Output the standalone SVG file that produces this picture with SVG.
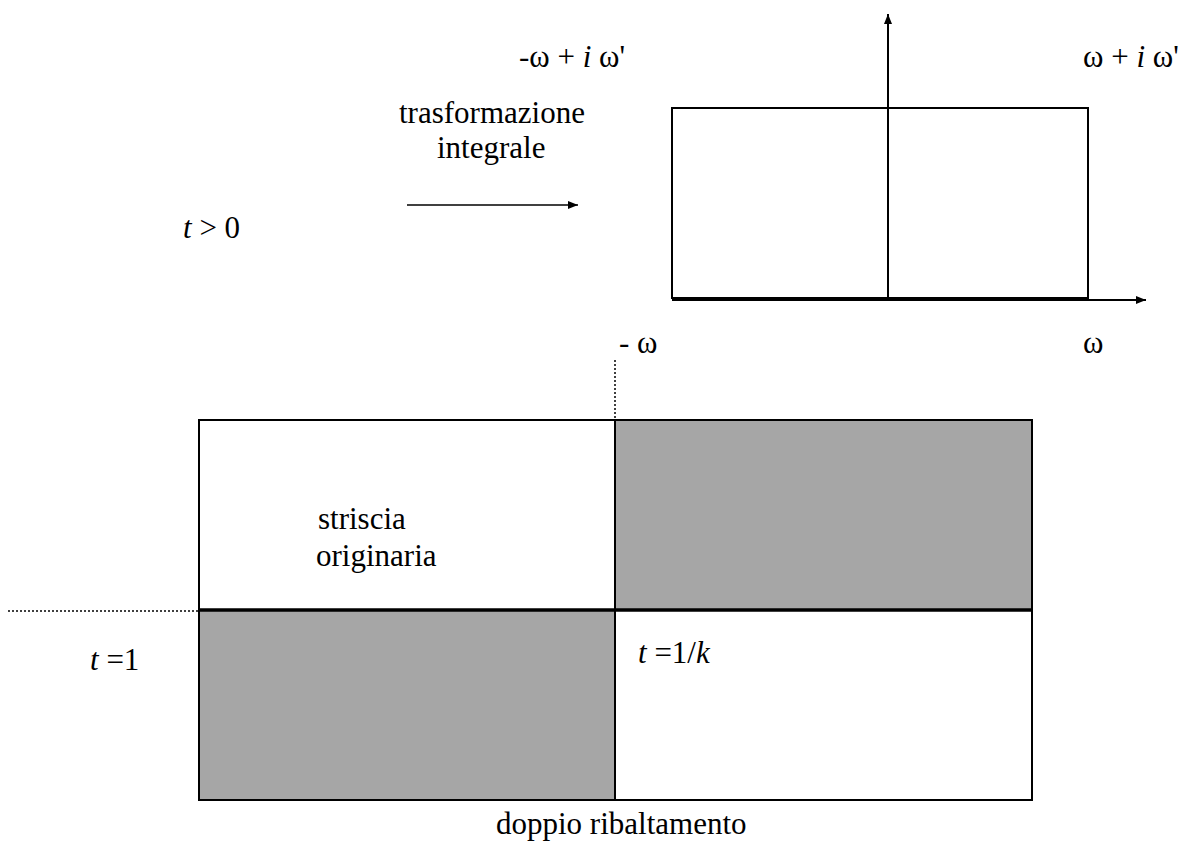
<svg xmlns="http://www.w3.org/2000/svg" width="1182" height="842" viewBox="0 0 1182 842">
<style>
text{font-family:"Liberation Serif","Times New Roman",serif;font-size:31px;fill:#000}
.i{font-style:italic}
.ln{stroke:#000;stroke-width:2;fill:none}
.dot{stroke:#000;stroke-width:1.5;stroke-dasharray:2 2;fill:none}
.g{fill:#a6a6a6}
</style>
<defs>
<marker id="ah" viewBox="0 0 10 10" refX="10" refY="5" markerWidth="10" markerHeight="10" markerUnits="userSpaceOnUse" orient="auto">
<path d="M0,1 L10,5 L0,9 z" fill="#000"/>
</marker>
</defs>
<rect width="1182" height="842" fill="#fff"/>
<g id="upper-plane">
<rect x="672" y="108" width="416" height="190" class="ln"/>
</g>
<g id="lower-strip">
<rect x="615" y="420" width="417" height="190" class="g"/>
<rect x="199" y="610" width="416" height="190" class="g"/>
<rect x="199" y="420" width="833" height="380" class="ln"/>
<line x1="615" y1="420" x2="615" y2="800" class="ln"/>
<line x1="199" y1="610" x2="1032" y2="610" stroke="#000" stroke-width="3.5"/>
</g>
<g id="connectors">
<line x1="888" y1="298" x2="888" y2="14" class="ln" marker-end="url(#ah)"/>
<line x1="672" y1="300" x2="1146" y2="300" class="ln" marker-end="url(#ah)"/>
<line x1="407" y1="205" x2="578" y2="205" stroke="#000" stroke-width="1.5" marker-end="url(#ah)"/>
<line x1="615" y1="360" x2="615" y2="455" class="dot"/>
<line x1="8" y1="611" x2="199" y2="611" class="dot"/>
</g>
<g id="labels">
<text x="519" y="67">-ω + <tspan class="i">i</tspan> ω'</text>
<text x="1083" y="67">ω + <tspan class="i">i</tspan> ω'</text>
<text x="399" y="123">trasformazione</text>
<text x="437" y="158">integrale</text>
<text x="183" y="238"><tspan class="i">t</tspan> &gt; 0</text>
<text x="619" y="353">- ω</text>
<text x="1083" y="353">ω</text>
<text x="318" y="529">striscia</text>
<text x="316" y="566">originaria</text>
<text x="90" y="670"><tspan class="i">t</tspan> =1</text>
<text x="638" y="663"><tspan class="i">t</tspan> =1/<tspan class="i">k</tspan></text>
<text x="496" y="834">doppio ribaltamento</text>
</g>
</svg>
